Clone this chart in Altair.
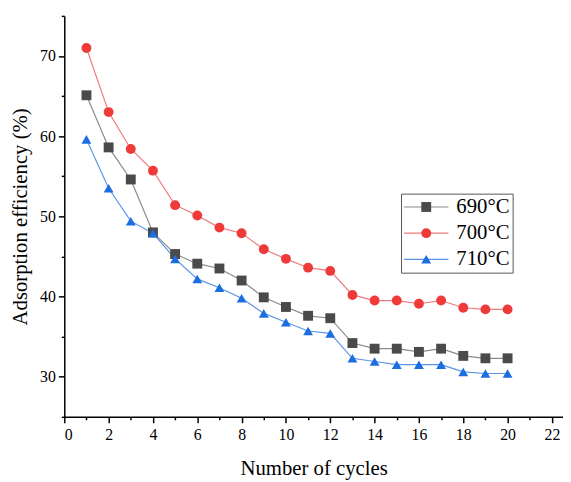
import altair as alt
import pandas as pd

cycles = list(range(1, 21))
series_names = ["690°C", "700°C", "710°C"]
eff_690 = [65.1, 58.6, 54.6, 48.0, 45.3, 44.1, 43.5, 42.0, 39.9, 38.7,
           37.6, 37.3, 34.2, 33.5, 33.5, 33.1, 33.5, 32.6, 32.3, 32.3]
eff_700 = [71.0, 63.0, 58.4, 55.7, 51.4, 50.1, 48.6, 47.9, 45.9, 44.7,
           43.6, 43.2, 40.2, 39.5, 39.5, 39.1, 39.5, 38.6, 38.4, 38.4]
eff_710 = [59.6, 53.5, 49.4, 47.9, 44.7, 42.2, 41.1, 39.8, 37.9, 36.8,
           35.7, 35.4, 32.3, 31.9, 31.5, 31.5, 31.5, 30.6, 30.4, 30.4]
marker_colors = ["#4a4a4a", "#ef3a3a", "#1c6ee0"]
line_colors = ["#8a8a8a", "#f07a7a", "#5a95e8"]
marker_shapes = ["square", "circle", "triangle-up"]
x_tick_values = list(range(0, 23))
y_tick_values = list(range(25, 76, 5))

rows = []
for name, vals in zip(series_names, [eff_690, eff_700, eff_710]):
    for c, v in zip(cycles, vals):
        rows.append({"cycle": c, "eff": v, "series": name, "series_m": name})
df = pd.DataFrame(rows)

FONT = "Liberation Serif"

x_enc = alt.X(
    "cycle:Q",
    scale=alt.Scale(domain=[0, 22.5], nice=False, zero=False),
    axis=alt.Axis(
        values=x_tick_values,
        title="Number of cycles",
        labelExpr="datum.value % 2 === 0 ? datum.label : ''",
        tickSize={"condition": {"test": "datum.value % 2 === 1", "value": 3}, "value": 6},
        grid=False,
        labelFont=FONT,
        titleFont=FONT,
    ),
)
y_enc = alt.Y(
    "eff:Q",
    scale=alt.Scale(domain=[25, 75], nice=False, zero=False),
    axis=alt.Axis(
        values=y_tick_values,
        title="Adsorption efficiency (%)",
        labelExpr="datum.value % 10 === 0 ? datum.label : ''",
        tickSize={"condition": {"test": "datum.value % 10 !== 0", "value": 3}, "value": 6},
        grid=False,
        labelFont=FONT,
        titleFont=FONT,
    ),
)

LEG_X = 341
LEG_Y = 180

legend_lines = alt.Legend(
    title=None,
    orient="none",
    legendX=LEG_X,
    legendY=LEG_Y,
    symbolType="M-4.5,0H4.5",
    symbolSize=100,
    symbolStrokeWidth=1.2,
    symbolOffset=12,
    labelOffset=20,
    labelFont=FONT,
    labelFontSize=21,
    labelColor="black",
    padding=3,
    rowPadding=4.5,
    strokeColor="#555555",
)
legend_marks = alt.Legend(
    title=None,
    orient="none",
    legendX=LEG_X,
    legendY=LEG_Y,
    symbolSize=100,
    symbolStrokeWidth=0,
    symbolOffset=12,
    labelOffset=20,
    labelFont=FONT,
    labelFontSize=21,
    labelOpacity=0,
    padding=3,
    rowPadding=4.5,
)

lines = alt.Chart(df).mark_line(strokeWidth=1.2).encode(
    x=x_enc,
    y=y_enc,
    stroke=alt.Stroke("series:N", scale=alt.Scale(range=line_colors),
                      legend=legend_lines),
    detail="series:N",
)
points = alt.Chart(df).mark_point(filled=True, size=100, opacity=1, strokeWidth=0).encode(
    x=x_enc,
    y=y_enc,
    fill=alt.Fill("series_m:N", scale=alt.Scale(domain=series_names, range=marker_colors),
                  legend=legend_marks),
    shape=alt.Shape("series_m:N", scale=alt.Scale(domain=series_names, range=marker_shapes),
                    legend=legend_marks),
)

chart = alt.layer(lines, points).properties(
    width=505,
    height=406,
    padding={"left": 57, "top": 5, "right": 0, "bottom": 63},
    autosize=alt.AutoSizeParams(type="none"),
).configure_view(stroke=None).configure_axis(
    domainColor="black",
    domainWidth=1.5,
    tickColor="black",
    tickWidth=1.5,
    labelFont=FONT,
    labelFontSize=16,
    labelColor="black",
    titleFont=FONT,
    titleFontSize=21,
    titleFontWeight="normal",
    titleColor="black",
).configure_axisX(
    labelPadding=4,
    titlePadding=15,
).configure_axisY(
    labelPadding=3,
    titlePadding=9,
).configure_legend(
    labelFont=FONT,
)

chart.save("out.html", embed_options={"renderer": "svg", "actions": False})
